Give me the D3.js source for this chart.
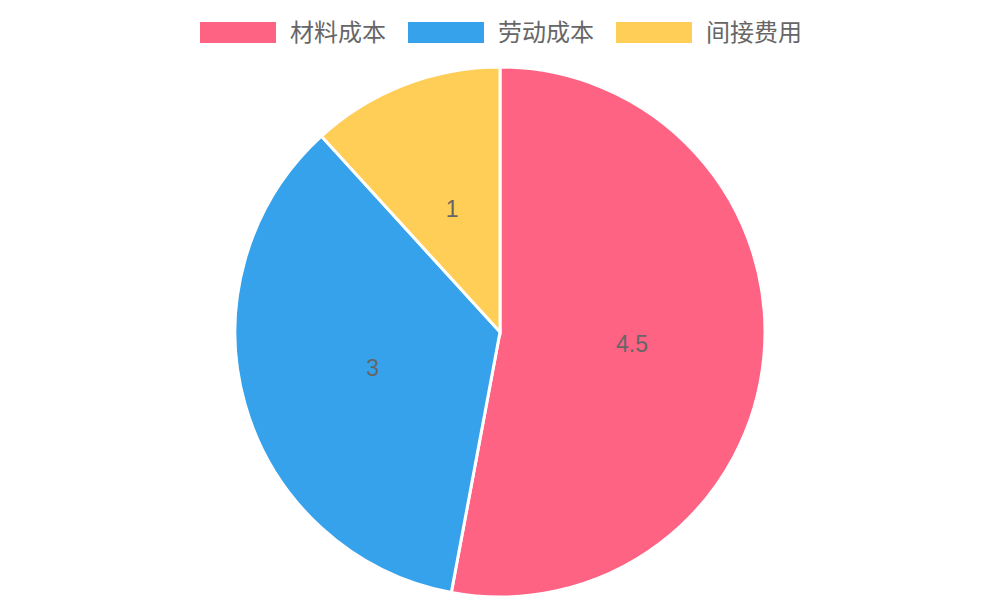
<!DOCTYPE html>
<html>
<head>
<meta charset="utf-8">
<script src="https://cdn.jsdelivr.net/npm/d3@7"></script>
<style>
  body { margin: 0; background: #fff; }
  text { font-family: "Liberation Sans", "Noto Sans CJK SC", sans-serif; }
</style>
</head>
<body>
<svg id="chart" width="1000" height="600"></svg>
<script>
const labels = ["材料成本", "劳动成本", "间接费用"];
const values = [4.5, 3, 1];
const colors = ["#FF6384", "#36A2EB", "#FFCE56"];

const svg = d3.select("#chart");
const width = 1000, height = 600;
const cx = 500, cy = 332, radius = 265;

// legend
const legend = svg.append("g");
const boxW = 76, boxH = 21, gapText = 14, gapItem = 22;
let items = legend.selectAll("g").data(labels).enter().append("g");
items.append("rect")
    .attr("width", boxW).attr("height", boxH)
    .attr("y", 22)
    .attr("fill", (d, i) => colors[i]);
items.append("text")
    .text(d => d)
    .attr("x", boxW + gapText)
    .attr("y", 33)
    .attr("dy", "0.35em")
    .style("font-size", "24px")
    .style("fill", "#666");
let x = 0;
let offsets = [];
items.each(function () {
    let w = this.getBBox().width;
    offsets.push(x);
    x += w + gapItem;
});
let total = x - gapItem;
items.attr("transform", (d, i) => "translate(" + (width / 2 - total / 2 + offsets[i] + 1) + ",0)");

// pie
const pie = d3.pie().sort(null).value(d => d);
const arc = d3.arc().innerRadius(0).outerRadius(radius);
const labelArc = d3.arc().innerRadius(radius / 2).outerRadius(radius / 2);

const g = svg.append("g").attr("transform", "translate(" + cx + "," + cy + ")");
const arcs = pie(values);
g.selectAll("path").data(arcs).enter().append("path")
    .attr("d", arc)
    .attr("fill", (d, i) => colors[i])
    .attr("stroke", "#fff")
    .attr("stroke-width", 3);

g.selectAll("text.val").data(arcs).enter().append("text")
    .attr("class", "val")
    .attr("transform", d => "translate(" + labelArc.centroid(d) + ")")
    .attr("text-anchor", "middle")
    .attr("dy", "0.35em")
    .style("font-size", "23px")
    .style("fill", "#666")
    .text(d => d.data);
</script>
</body>
</html>
